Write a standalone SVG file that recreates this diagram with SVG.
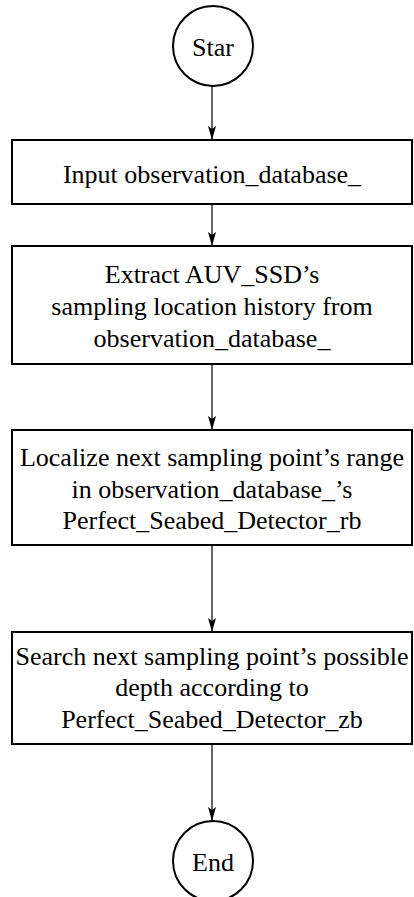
<svg xmlns="http://www.w3.org/2000/svg" width="414" height="897" viewBox="0 0 414 897">
  <style>
    .shape { fill: #ffffff; stroke: #000000; stroke-width: 2; }
    .label { font-size: 26px; fill: #000000; text-anchor: middle; }
    .edge { stroke: #000000; stroke-width: 1.2; fill: none; marker-end: url(#arrow); }
  </style>
  <defs>
    <!-- narrow filled arrowhead with a notched back, pointing along +x -->
    <marker id="arrow" viewBox="0 0 14 8" refX="14" refY="4" markerWidth="14" markerHeight="8" markerUnits="userSpaceOnUse" orient="auto">
      <path d="M0,0 L3,4 L0,8 L14,4 Z" fill="#000000"/>
    </marker>
  </defs>
  <rect width="414" height="897" fill="#ffffff"/>

  <g id="connectors">
    <line class="edge" x1="212" y1="86" x2="212" y2="140"/>
    <line class="edge" x1="212" y1="204" x2="212" y2="246"/>
    <line class="edge" x1="212" y1="364" x2="212" y2="430"/>
    <line class="edge" x1="212" y1="545" x2="212" y2="632"/>
    <line class="edge" x1="212" y1="744" x2="212" y2="821"/>
  </g>

  <g font-family="'Liberation Serif', 'DejaVu Serif', 'Times New Roman', serif">
    <g id="start">
      <circle class="shape" cx="213" cy="46" r="40"/>
      <text class="label" x="213" y="56">Star</text>
    </g>

    <g id="input">
      <rect class="shape" x="12" y="140" width="400" height="64"/>
      <text class="label" x="212" y="183">Input observation_database_</text>
    </g>

    <g id="extract">
      <rect class="shape" x="12" y="246" width="400" height="118"/>
      <text class="label" x="212" y="283">Extract AUV_SSD’s</text>
      <text class="label" x="212" y="315">sampling location history from</text>
      <text class="label" x="212" y="347">observation_database_</text>
    </g>

    <g id="localize">
      <rect class="shape" x="12" y="430" width="400" height="115"/>
      <text class="label" x="212" y="466">Localize next sampling point’s range</text>
      <text class="label" x="212" y="498">in observation_database_’s</text>
      <text class="label" x="212" y="529">Perfect_Seabed_Detector_rb</text>
    </g>

    <g id="search">
      <rect class="shape" x="12" y="632" width="400" height="112"/>
      <text class="label" x="212" y="665">Search next sampling point’s possible</text>
      <text class="label" x="212" y="696">depth according to</text>
      <text class="label" x="212" y="728">Perfect_Seabed_Detector_zb</text>
    </g>

    <g id="end">
      <circle class="shape" cx="213" cy="861" r="40"/>
      <text class="label" x="213" y="871">End</text>
    </g>
  </g>
</svg>
